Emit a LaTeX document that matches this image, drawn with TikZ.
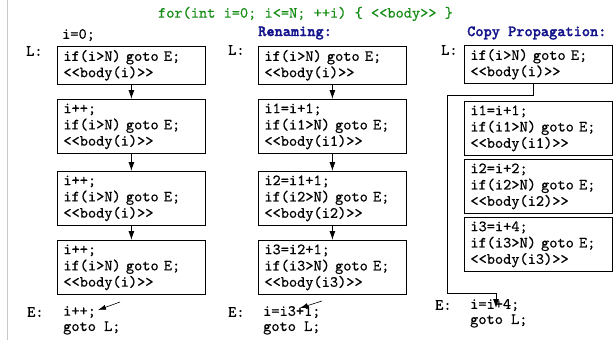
\documentclass[tikz,border=0pt]{standalone}
\usepackage{fontspec}
\usetikzlibrary{arrows.meta}
\newfontfamily\codefont[FakeBold=0.6]{lmmono10-regular.otf}
\newfontfamily\headfont[FakeBold=1.6]{lmmonolt10-bold.otf}
\definecolor{titlegreen}{RGB}{20,140,20}
\definecolor{headnavy}{RGB}{20,20,140}
\definecolor{edgegray}{RGB}{200,200,200}
\begin{document}
\begin{tikzpicture}[x=1pt,y=-1pt,
  code/.style={font=\codefont\fontsize{15.6}{16.3}\selectfont},
  lbl/.style={code,anchor=west,inner sep=0pt},
  cbox/.style={code,draw,line width=0.8pt,anchor=north west,align=left,
    text width=136pt,inner xsep=6pt,inner ysep=0pt,minimum width=148pt},
  two/.style={cbox,minimum height=38pt},
  three/.style={cbox,minimum height=54pt},
  flow/.style={line width=0.8pt,-{Latex[length=9pt,width=6pt]}},
  jump/.style={line width=0.6pt,-{Latex[length=8pt,width=5pt]}},
  head/.style={lbl,text=headnavy,font=\headfont\fontsize{15.6}{16.3}\selectfont}]
\useasboundingbox (0,0) rectangle (613,340);
\draw[edgegray,line width=0.8pt] (7,0) -- (7,340);

% loop header
\node[code,text=titlegreen,inner sep=0pt] (title) at (305.5,14)
  {for(int i=0; i<=N; ++i) \{ <<body>> \}};

% unrolled loop
\node[lbl] (init) at (62,35) {i=0;};
\node[lbl] (la) at (26,51) {L:};
\node[two] (a1) at (57,46) {if(i>N) goto E;\\<<body(i)>>};
\node[three] (a2) at (57,99) {i++;\\if(i>N) goto E;\\<<body(i)>>};
\node[three] (a3) at (57,171) {i++;\\if(i>N) goto E;\\<<body(i)>>};
\node[three] (a4) at (57,240) {i++;\\if(i>N) goto E;\\<<body(i)>>};
\node[lbl] (ea) at (27,312) {E:};
\node[lbl] (ea1) at (63,312) {i++;};
\node[lbl] (ea2) at (63,328) {goto L;};
\draw[flow] (a1) -- (a2);
\draw[flow] (a2) -- (a3);
\draw[flow] (a3) -- (a4);
\coordinate (ta) at (120,302);
\coordinate (ha) at (98,310);
\draw[jump] (ta) -- (ha);

% renamed copies
\node[head] (hb) at (258,33) {Renaming:};
\node[lbl] (lb) at (228,50) {L:};
\node[two] (b1) at (258,46) {if(i>N) goto E;\\<<body(i)>>};
\node[three] (b2) at (258,99) {i1=i+1;\\if(i1>N) goto E;\\<<body(i1)>>};
\node[three] (b3) at (258,171) {i2=i1+1;\\if(i2>N) goto E;\\<<body(i2)>>};
\node[three] (b4) at (258,240) {i3=i2+1;\\if(i3>N) goto E;\\<<body(i3)>>};
\node[lbl] (eb) at (228,312) {E:};
\node[lbl] (eb1) at (263,312) {i=i3+1;};
\node[lbl] (eb2) at (263,328) {goto L;};
\draw[flow] (b1) -- (b2);
\draw[flow] (b2) -- (b3);
\draw[flow] (b3) -- (b4);
\coordinate (tb) at (322,301);
\coordinate (hb2) at (300,308);
\draw[jump] (tb) -- (hb2);

% after copy propagation
\node[head] (hc) at (467,33) {Copy Propagation:};
\node[lbl] (lc) at (441,50) {L:};
\node[two] (c1) at (464,45) {if(i>N) goto E;\\<<body(i)>>};
\node[three] (c2) at (464,101) {i1=i+1;\\if(i1>N) goto E;\\<<body(i1)>>};
\node[three] (c3) at (464,159) {i2=i+2;\\if(i2>N) goto E;\\<<body(i2)>>};
\node[three] (c4) at (464,217) {i3=i+4;\\if(i3>N) goto E;\\<<body(i3)>>};
\node[lbl] (ec) at (435,305) {E:};
\node[lbl] (ec1) at (470,305) {i=i+4;};
\node[lbl] (ec2) at (470,321) {goto L;};
\coordinate (k1) at (533,95);
\coordinate (k2) at (447,95);
\coordinate (k3) at (447,293);
\coordinate (k4) at (496,293);
\coordinate (hc2) at (496,308);
\draw[flow] (c1.south -| k1) -- (k1) -- (k2) -- (k3) -- (k4) -- (hc2);
\end{tikzpicture}
\end{document}
